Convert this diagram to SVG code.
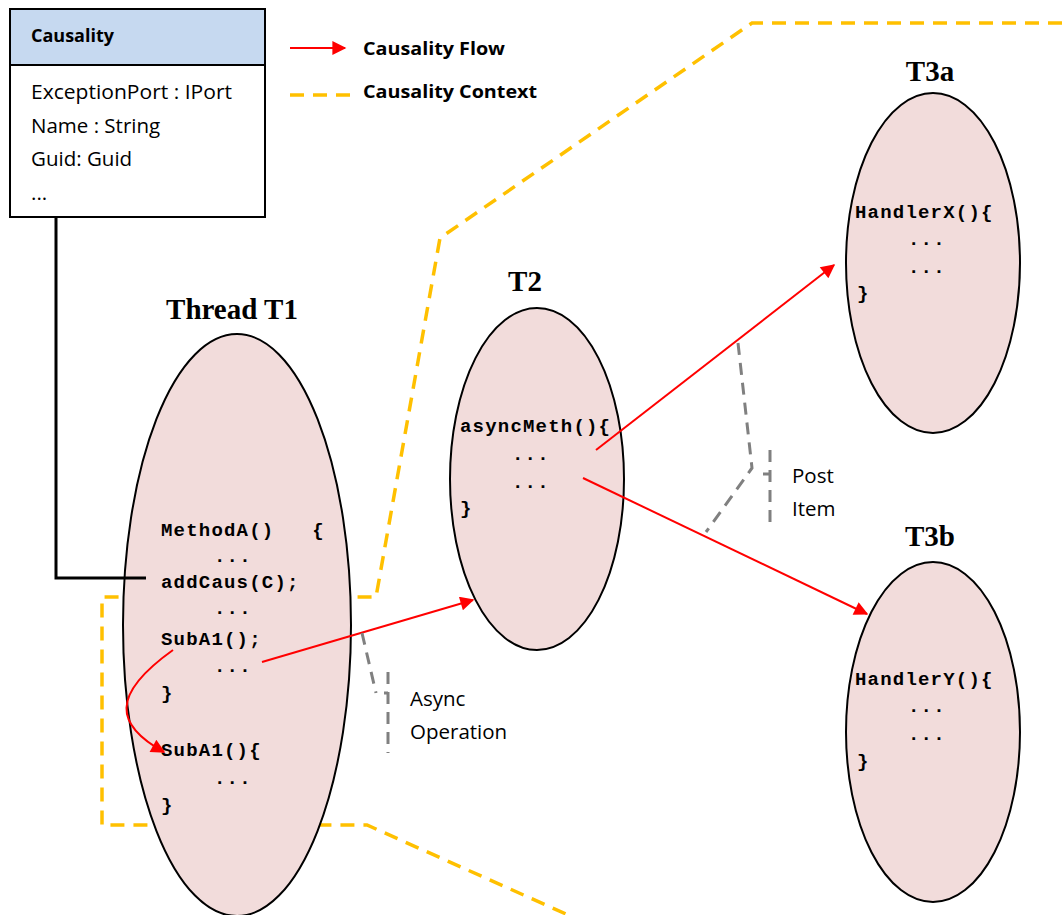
<svg xmlns="http://www.w3.org/2000/svg" width="1062" height="915" viewBox="0 0 1062 915">
<defs>
<style>
.ell{fill:#f2dcdb;stroke:#000;stroke-width:2}
.code{font-family:"Liberation Mono","Courier New",monospace;font-weight:bold;font-size:19px;letter-spacing:1.2px;fill:#000;white-space:pre}
.ttl{font-family:"Liberation Serif","Times New Roman",serif;font-weight:bold;font-size:29px;fill:#000;text-anchor:middle}
.lbl{font-family:"Open Sans","Noto Sans",sans-serif;font-size:20.5px;fill:#000}
.bl{font-family:"Open Sans","Noto Sans",sans-serif;font-size:18px;font-weight:bold;fill:#000}
.flow{fill:none;stroke:#ff0000;stroke-width:2;marker-end:url(#ah)}
.ctx{fill:none;stroke:#ffc000;stroke-width:3.5;stroke-dasharray:14 9}
.gray{fill:none;stroke:#808080;stroke-width:3;stroke-dasharray:12 8}
</style>
<marker id="ah" viewBox="0 0 10 10" refX="9" refY="5" markerWidth="8" markerHeight="7" orient="auto" markerUnits="strokeWidth">
<path d="M0,0 L10,5 L0,10 z" fill="#ff0000"/>
</marker>
</defs>
<rect width="1062" height="915" fill="#fff"/>

<g id="context">
<path class="ctx" d="M1062,23 H752 L440,238 L376,597 H102 V825 H367 L575,918"/>
</g>

<g id="thread-t1">
<ellipse class="ell" cx="237" cy="625" rx="114" ry="291"/>
<text class="ttl" x="232" y="319">Thread T1</text>
<text class="code" x="161" y="536" xml:space="preserve">MethodA()   {</text>
<text class="code" x="214" y="562">...</text>
<text class="code" x="161" y="588">addCaus(C);</text>
<text class="code" x="214" y="614">...</text>
<text class="code" x="161" y="645">SubA1();</text>
<text class="code" x="214" y="672">...</text>
<text class="code" x="161" y="699">}</text>
<text class="code" x="161" y="756">SubA1(){</text>
<text class="code" x="214" y="784">...</text>
<text class="code" x="161" y="811">}</text>
</g>

<g id="thread-t2">
<ellipse class="ell" cx="537" cy="479" rx="87" ry="171"/>
<text class="ttl" x="525" y="291">T2</text>
<text class="code" x="460" y="432">asyncMeth(){</text>
<text class="code" x="512" y="460">...</text>
<text class="code" x="512" y="488">...</text>
<text class="code" x="460" y="514">}</text>
</g>

<g id="thread-t3a">
<ellipse class="ell" cx="933" cy="263" rx="87" ry="170"/>
<text class="ttl" x="930" y="81">T3a</text>
<text class="code" x="855" y="218">HandlerX(){</text>
<text class="code" x="908" y="245">...</text>
<text class="code" x="908" y="273">...</text>
<text class="code" x="857" y="299">}</text>
</g>

<g id="thread-t3b">
<ellipse class="ell" cx="933" cy="732" rx="87" ry="170"/>
<text class="ttl" x="930" y="546">T3b</text>
<text class="code" x="855" y="685">HandlerY(){</text>
<text class="code" x="908" y="712">...</text>
<text class="code" x="908" y="740">...</text>
<text class="code" x="857" y="767">}</text>
</g>

<g id="causality-class">
<rect x="10" y="9" width="255" height="56" fill="#c6d9f0" stroke="#000" stroke-width="2"/>
<rect x="10" y="65" width="255" height="152" fill="#fff" stroke="#000" stroke-width="2"/>
<text class="bl" x="31" y="42">Causality</text>
<text class="lbl" x="31" y="99" textLength="201" lengthAdjust="spacingAndGlyphs">ExceptionPort : IPort</text>
<text class="lbl" x="31" y="133">Name : String</text>
<text class="lbl" x="31" y="166">Guid: Guid</text>
<text class="lbl" x="31" y="200">...</text>
</g>

<g id="legend">
<line class="flow" x1="290" y1="48" x2="345" y2="48"/>
<text class="bl" x="363" y="55" textLength="142" lengthAdjust="spacingAndGlyphs">Causality Flow</text>
<line class="ctx" x1="290" y1="95" x2="355" y2="95" stroke-dasharray="14 8"/>
<text class="bl" x="363" y="98" textLength="174" lengthAdjust="spacingAndGlyphs">Causality Context</text>
</g>

<g id="connectors">
<polyline points="56,217 56,578 146,578" fill="none" stroke="#000" stroke-width="3"/>
<line class="flow" x1="262" y1="662" x2="473" y2="600"/>
<path class="flow" d="M173,650 C110,695 115,725 164,752"/>
<line class="flow" x1="596" y1="450" x2="834" y2="265"/>
<line class="flow" x1="583" y1="478" x2="867" y2="614"/>
</g>

<g id="async-operation">
<path class="gray" d="M362,633 L376,693"/>
<path class="gray" d="M384,693 H388 M388,672 V753"/>
<text class="lbl" x="410" y="706">Async</text>
<text class="lbl" x="410" y="739">Operation</text>
</g>

<g id="post-item">
<path class="gray" d="M738,343 L752,468 L706,532"/>
<path class="gray" d="M763,474 H770 M770,450 V530"/>
<text class="lbl" x="792" y="483">Post</text>
<text class="lbl" x="792" y="516">Item</text>
</g>
</svg>
